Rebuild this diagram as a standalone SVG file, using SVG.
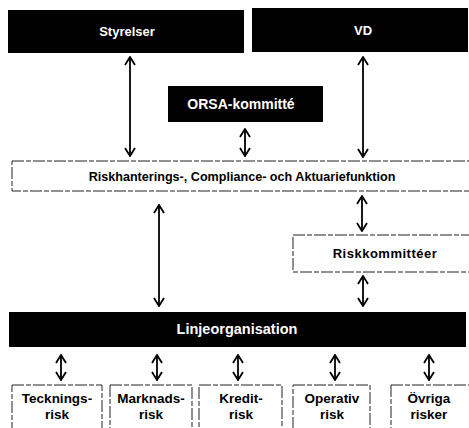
<svg xmlns="http://www.w3.org/2000/svg" width="469" height="428" viewBox="0 0 469 428">
<style>
.dark{fill:#000}
.light{fill:#fff;stroke:#222;stroke-width:1;stroke-dasharray:12 2 5 2}
.wt{fill:#fff;font-family:"Liberation Sans",Arial,sans-serif;font-weight:bold;font-size:13px;text-anchor:middle}
.bt{fill:#000;font-family:"Liberation Sans",Arial,sans-serif;font-weight:bold;font-size:13.5px;text-anchor:middle}
.c{stroke:#000;stroke-width:1.8;fill:none;marker-start:url(#ah);marker-end:url(#ah)}
</style>
<defs>
<marker id="ah" viewBox="0 0 12 12" refX="11" refY="6" markerWidth="12" markerHeight="12" markerUnits="userSpaceOnUse" orient="auto-start-reverse">
<polyline points="3,1 11,6 3,11" fill="none" stroke="#000" stroke-width="1.8"/>
</marker>
</defs>
<rect width="469" height="428" fill="#fff"/>
<g id="styrelser"><rect class="dark" x="8" y="10" width="236" height="43"/><text class="wt" x="127" y="36">Styrelser</text></g>
<g id="vd"><rect class="dark" x="252" y="8" width="216" height="44"/><text class="wt" x="363" y="35">VD</text></g>
<g id="orsa"><rect class="dark" x="168" y="86" width="155" height="36"/><text class="wt" x="241" y="109" style="font-size:14px">ORSA-kommitté</text></g>
<g id="riskhantering"><rect class="light" x="12" y="161" width="462" height="30"/><text class="bt" x="242" y="181" style="font-size:12.6px">Riskhanterings-, Compliance- och Aktuariefunktion</text></g>
<g id="riskkommitteer"><rect class="light" x="293" y="235" width="180" height="37"/><text class="bt" x="385" y="258" style="font-size:13px;letter-spacing:0.5px">Riskkommittéer</text></g>
<g id="linje"><rect class="dark" x="9" y="312" width="457" height="35"/><text class="wt" x="237" y="334" style="font-size:14.5px">Linjeorganisation</text></g>
<g id="teckning"><rect class="light" x="12" y="385" width="90" height="50"/><text class="bt" x="57" y="403">Tecknings-</text><text class="bt" x="57" y="419">risk</text></g>
<g id="marknad"><rect class="light" x="110" y="385" width="82" height="50"/><text class="bt" x="151" y="403">Marknads-</text><text class="bt" x="151" y="419">risk</text></g>
<g id="kredit"><rect class="light" x="199" y="385" width="83" height="50"/><text class="bt" x="241" y="403">Kredit-</text><text class="bt" x="241" y="419">risk</text></g>
<g id="operativ"><rect class="light" x="293" y="385" width="77" height="50"/><text class="bt" x="332" y="403">Operativ</text><text class="bt" x="332" y="419">risk</text></g>
<g id="ovriga"><rect class="light" x="391" y="385" width="82" height="50"/><text class="bt" x="429" y="403">Övriga</text><text class="bt" x="429" y="419">risker</text></g>
<g id="connectors">
<line class="c" x1="130" y1="57" x2="130" y2="156"/>
<line class="c" x1="363" y1="57" x2="363" y2="157"/>
<line class="c" x1="245" y1="129" x2="245" y2="156"/>
<line class="c" x1="159" y1="205" x2="159" y2="306"/>
<line class="c" x1="362" y1="196" x2="362" y2="231"/>
<line class="c" x1="363" y1="276" x2="363" y2="306"/>
<line class="c" x1="61" y1="355" x2="61" y2="380"/>
<line class="c" x1="157" y1="355" x2="157" y2="380"/>
<line class="c" x1="238" y1="355" x2="238" y2="380"/>
<line class="c" x1="335" y1="355" x2="335" y2="380"/>
<line class="c" x1="429" y1="355" x2="429" y2="380"/>
</g>
</svg>
